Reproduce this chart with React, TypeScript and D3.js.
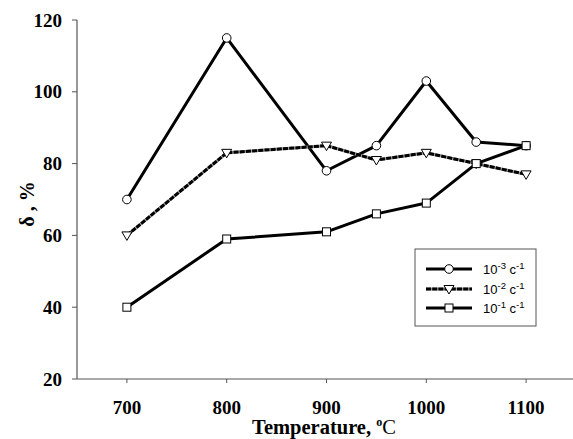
import React from "react";
import * as d3 from "d3";

const temperatures = [700, 800, 900, 950, 1000, 1050, 1100];
const seriesA = [70, 115, 78, 85, 103, 86, 85]; // 10^-3
const seriesB = [60, 83, 85, 81, 83, 80, 77]; // 10^-2
const seriesC = [40, 59, 61, 66, 69, 80, 85]; // 10^-1
const xTicks = [700, 800, 900, 1000, 1100];
const yTicks = [20, 40, 60, 80, 100, 120];
const legendExp = ["-3", "-2", "-1"];

const W = 573, H = 439;
const SERIF = "'Liberation Serif', 'Times New Roman', Times, serif";
const SANS = "'Liberation Sans', Arial, sans-serif";
const x = d3.scaleLinear().domain([650, 1150]).range([77, 576]);
const y = d3.scaleLinear().domain([20, 120]).range([379, 20]);

const line = d3.line<number>().x((_, i) => x(temperatures[i])).y((v) => y(v));

function Circle({ cx, cy }: { cx: number; cy: number }) {
  return <circle cx={cx} cy={cy} r={4.3} fill="#fff" stroke="#000" strokeWidth={1} />;
}
function Tri({ cx, cy }: { cx: number; cy: number }) {
  const p = d3.path();
  p.moveTo(cx - 5, cy - 3.5);
  p.lineTo(cx + 5, cy - 3.5);
  p.lineTo(cx, cy + 5);
  p.closePath();
  return <path d={p.toString()} fill="#fff" stroke="#000" strokeWidth={1} />;
}
function Sq({ cx, cy }: { cx: number; cy: number }) {
  return <rect x={cx - 4} y={cy - 4} width={8} height={8} fill="#fff" stroke="#000" strokeWidth={1} />;
}

export default function App() {
  const series = [
    { v: seriesA, M: Circle, dashed: false },
    { v: seriesB, M: Tri, dashed: true },
    { v: seriesC, M: Sq, dashed: false },
  ];
  return (
    <svg width={W} height={H} style={{ position: "absolute", left: 0, top: 0 }}>
      <rect width={W} height={H} fill="#fff" />
      {/* axes */}
      <line x1={77} x2={77} y1={20} y2={379} stroke="#555" strokeWidth={1.2} />
      <line x1={77} x2={573} y1={379} y2={379} stroke="#555" strokeWidth={1.2} />
      {yTicks.map((t) => (
        <g key={t}>
          <line x1={72} x2={77} y1={y(t)} y2={y(t)} stroke="#555" strokeWidth={1} />
          <text x={62} y={y(t)} dy="0.35em" textAnchor="end" fontFamily={SERIF} fontWeight="bold" fontSize={19}>
            {t}
          </text>
        </g>
      ))}
      {xTicks.map((t) => (
        <g key={t}>
          <line x1={x(t)} x2={x(t)} y1={379} y2={383} stroke="#555" strokeWidth={1} />
          <text x={x(t)} y={414} textAnchor="middle" fontFamily={SERIF} fontWeight="bold" fontSize={19}>
            {t}
          </text>
        </g>
      ))}
      <text x={324} y={434} textAnchor="middle" fontFamily={SERIF} fontWeight="bold" fontSize={20.5}>
        Temperature,{" "}
        <tspan fontSize={12} dy={-8}>o</tspan>
        <tspan dy={8} fontWeight="normal">C</tspan>
      </text>
      <text transform="translate(34,204) rotate(-90)" textAnchor="middle" fontFamily={SERIF} fontWeight="bold" fontSize={20}>
        δ , %
      </text>
      {/* lines */}
      {series.map((s, i) => (
        <g key={i}>
          {s.dashed && <path d={line(s.v) || ""} fill="none" stroke="#999" strokeWidth={3} strokeLinejoin="round" />}
          <path d={line(s.v) || ""} fill="none" stroke="#000" strokeWidth={3} strokeDasharray={s.dashed ? "5,1.2" : undefined} strokeLinejoin="round" />
        </g>
      ))}
      {series.map((s, i) =>
        s.v.map((v, j) => <s.M key={`${i}-${j}`} cx={x(temperatures[j])} cy={y(v)} />)
      )}
      {/* legend */}
      <rect x={415} y={249} width={121} height={77} fill="#fff" stroke="#555" strokeWidth={1} />
      {series.map((s, i) => {
        const ly = [269, 289, 308][i];
        return (
          <g key={i}>
            {s.dashed && <line x1={426} x2={472} y1={ly} y2={ly} stroke="#999" strokeWidth={3} />}
            <line x1={426} x2={472} y1={ly} y2={ly} stroke="#000" strokeWidth={3} strokeDasharray={s.dashed ? "5,1.2" : undefined} />
            <s.M cx={449} cy={ly} />
            <text x={483} y={ly + 5} fontFamily={SANS} fontSize={13}>
              10<tspan fontSize={9.5} dy={-5}>{legendExp[i]}</tspan>
              <tspan dy={5}> c</tspan>
              <tspan fontSize={9.5} dy={-5}>-1</tspan>
            </text>
          </g>
        );
      })}
    </svg>
  );
}
